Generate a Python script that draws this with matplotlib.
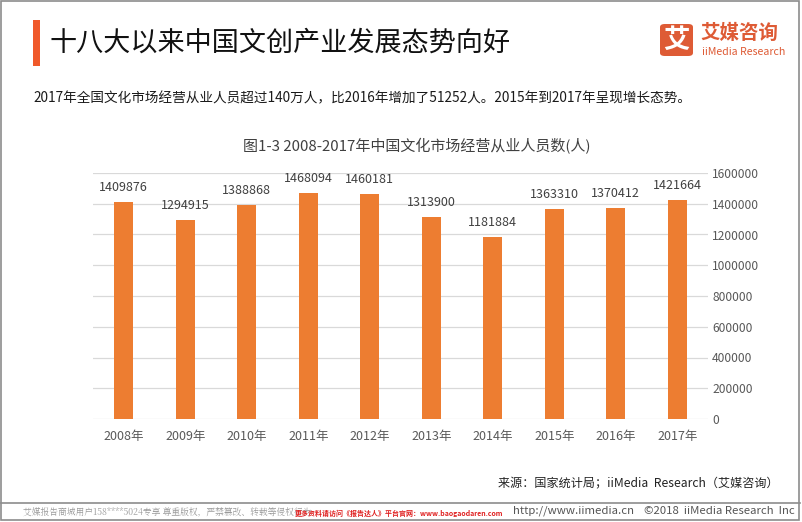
import matplotlib
matplotlib.use('Agg')
import matplotlib.pyplot as plt
from matplotlib.patches import FancyBboxPatch, Rectangle

plt.rcParams['font.family'] = ['Noto Sans CJK SC', 'DejaVu Sans']

# data
years = ['2008年', '2009年', '2010年', '2011年', '2012年',
         '2013年', '2014年', '2015年', '2016年', '2017年']
workers = [1409876, 1294915, 1388868, 1468094, 1460181,
           1313900, 1181884, 1363310, 1370412, 1421664]
y_ticks = [0, 200000, 400000, 600000, 800000, 1000000, 1200000, 1400000, 1600000]

bar_color = '#ED7D31'
text_gray = '#595959'

fig = plt.figure(figsize=(8.02, 5.22), dpi=100)
W, H = 802, 522

def fx(px):
    return px / W

def fy(py):
    return 1 - py / H

# page frame
fig.add_artist(Rectangle((fx(1), fy(520)), fx(799) - fx(1), fy(1) - fy(520),
                         transform=fig.transFigure, fill=False, edgecolor='#8C8C8C', lw=1.2))
fig.add_artist(plt.Line2D([fx(1), fx(800)], [fy(503), fy(503)],
                          transform=fig.transFigure, color='#8C8C8C', lw=1.2))

# header
fig.add_artist(Rectangle((fx(33), fy(66)), fx(7), fy(20) - fy(66),
                         transform=fig.transFigure, color='#F0592A', lw=0))
fig.text(fx(50), fy(43), '十八大以来中国文创产业发展态势向好', fontsize=19.5,
         color='#111111', va='center', ha='left', fontweight='medium')
fig.text(fx(33), fy(98), '2017年全国文化市场经营从业人员超过140万人，比2016年增加了51252人。2015年到2017年呈现增长态势。',
         fontsize=9.8, color='#1a1a1a', va='center', ha='left')

# logo
fig.add_artist(FancyBboxPatch((fx(660), fy(56)), fx(33), fy(24) - fy(56),
                              boxstyle='round,pad=0,rounding_size=0.006',
                              transform=fig.transFigure, color='#DE5B35', lw=0))
fig.text(fx(676.5), fy(40), '艾', fontsize=19, color='white', ha='center', va='center',
         fontweight='bold')
fig.text(fx(700), fy(33), '艾媒咨询', fontsize=14, color='#DE5B35', ha='left', va='center',
         fontweight='bold')
fig.text(fx(702), fy(52), 'iiMedia Research', fontsize=7.6, color='#DE5B35', ha='left',
         va='center')

# chart
ax = fig.add_axes([fx(93), fy(419), fx(708) - fx(93), fy(173) - fy(419)])
x = range(len(years))
bars = ax.bar(x, workers, width=0.31, color=bar_color, zorder=3)
for i, v in enumerate(workers):
    ax.annotate(str(v), (i, v), xytext=(0, 6), textcoords='offset points',
                ha='center', va='bottom', fontsize=9, color='#404040')

ax.set_ylim(0, 1600000)
ax.set_xlim(-0.5, len(years) - 0.5)
ax.set_yticks(y_ticks)
ax.set_yticklabels([str(t) for t in y_ticks])
ax.yaxis.tick_right()
ax.set_xticks(list(x))
ax.set_xticklabels(years)
ax.tick_params(axis='both', length=0, labelsize=9, labelcolor=text_gray)
ax.tick_params(axis='y', pad=3, labelsize=8.7)
ax.tick_params(axis='x', pad=8)
ax.grid(axis='y', color='#D9D9D9', lw=0.9, zorder=0)
for s in ax.spines.values():
    s.set_visible(False)

fig.text(fx(417), fy(146), '图1-3 2008-2017年中国文化市场经营从业人员数(人)', fontsize=10.8,
         color='#404040', ha='center', va='center')

fig.text(fx(779), fy(484), '来源：国家统计局；iiMedia  Research（艾媒咨询）', fontsize=8.7,
         color='#222222', ha='right', va='center')

# footer
fig.text(fx(23), fy(511), '艾媒报告商城用户158****5024专享 尊重版权，严禁篡改、转载等侵权行为',
         fontsize=6.3, color='#9a9a9a', ha='left', va='center',
         family=['Noto Serif CJK SC', 'Noto Sans CJK SC'])
fig.text(fx(295), fy(513), '更多资料请访问《报告达人》平台官网：www.baogaodaren.com',
         fontsize=5.0, color='#E02020', ha='left', va='center', fontweight='bold')
fig.text(fx(795), fy(511), 'http://www.iimedia.cn    ©2018  iiMedia Research  Inc',
         fontsize=8.2, color='#555555', ha='right', va='center')

fig.savefig('out.png', dpi=100)
